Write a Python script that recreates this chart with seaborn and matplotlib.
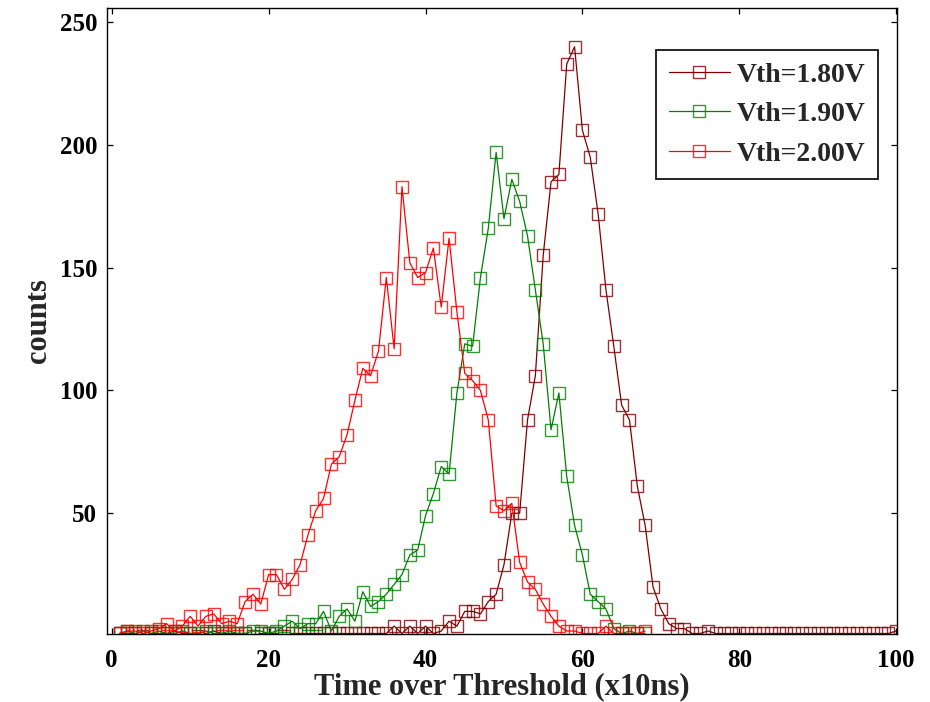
import numpy as np
import pandas as pd
import matplotlib
matplotlib.use("Agg")
import matplotlib.pyplot as plt
from matplotlib.colors import to_rgba
import seaborn as sns

# ---- data ----
x_180 = list(range(1, 101))
counts_180 = [1, 1, 1, 0, 1, 1, 1, 2, 1, 1,
              0, 1, 2, 1, 1, 1, 1, 0, 1, 1,
              1, 0, 1, 1, 1, 1, 1, 1, 1, 1,
              1, 1, 1, 1, 1, 4, 1, 4, 1, 4,
              1, 2, 6, 4, 10, 10, 9, 14, 17, 29,
              50, 50, 88, 106, 155, 185, 188, 233, 240, 206,
              195, 172, 141, 118, 94, 88, 61, 45, 20, 11,
              5, 3, 3, 1, 1, 2, 1, 1, 1, 1,
              1, 1, 1, 1, 1, 1, 1, 1, 1, 1,
              1, 1, 1, 1, 1, 1, 1, 1, 1, 2]

x_190 = list(range(1, 69))
counts_190 = [1, 2, 1, 2, 1, 2, 1, 1, 2, 1,
              1, 2, 1, 1, 2, 1, 1, 2, 2, 1,
              2, 4, 6, 3, 5, 5, 10, 2, 8, 11,
              6, 18, 12, 14, 17, 21, 25, 33, 35, 49,
              58, 69, 66, 99, 119, 118, 146, 166, 197, 170,
              186, 177, 163, 141, 119, 84, 99, 65, 45, 33,
              17, 14, 11, 3, 1, 2, 1, 1]

x_200 = list(range(1, 69))
counts_200 = [1, 2, 2, 1, 2, 3, 5, 2, 4, 8,
              4, 8, 9, 5, 6, 5, 14, 17, 13, 25,
              25, 19, 23, 29, 41, 51, 56, 70, 73, 82,
              96, 109, 106, 116, 146, 117, 183, 152, 146, 148,
              158, 134, 162, 132, 107, 104, 100, 88, 53, 51,
              54, 30, 22, 19, 13, 8, 4, 2, 2, 1,
              1, 1, 4, 1, 1, 1, 1, 2]

labels = ["Vth=1.80V", "Vth=1.90V", "Vth=2.00V"]
colors = ["#800000", "#008000", "#ff0000"]

x_ticks = [0, 20, 40, 60, 80, 100]
y_ticks = [50, 100, 150, 200, 250]

# ---- style ----
sns.set_style("ticks")
plt.rcParams["font.family"] = ["Liberation Serif", "DejaVu Serif"]
plt.rcParams["font.weight"] = "bold"

fig = plt.figure(figsize=(9.3, 7.02), dpi=100)
ax = fig.add_axes([0.1151, 0.0969, 0.8494, 0.8917])

series = [(x_180, counts_180), (x_190, counts_190), (x_200, counts_200)]
for (xs, ys), lab, col in zip(series, labels, colors):
    df = pd.DataFrame({"x": xs, "counts": ys})
    sns.lineplot(data=df, x="x", y="counts", ax=ax, color=col, label=lab,
                 linewidth=0.9, marker="s", markersize=8.4,
                 markerfacecolor="none", markeredgecolor=to_rgba(col, 0.8),
                 markeredgewidth=1.0)

ax.set_xlim(-0.6, 100.1)
ax.set_ylim(0.8, 255.8)
ax.set_xticks(x_ticks)
ax.set_yticks(y_ticks)
ax.tick_params(axis="both", which="major", direction="in", length=4,
               width=0.9, top=True, right=True, labelsize=18, colors="black")
ax.tick_params(axis="x", pad=11)
ax.tick_params(axis="y", pad=7)
for lbl in ax.get_xticklabels() + ax.get_yticklabels():
    lbl.set_fontweight("bold")
for sp in ax.spines.values():
    sp.set_visible(True)
    sp.set_color("black")
    sp.set_linewidth(1.0)

ax.set_xlabel("Time over Threshold (x10ns)", fontsize=22, fontweight="bold",
              labelpad=0)
ax.set_ylabel("counts", fontsize=22, fontweight="bold", labelpad=5)

leg = ax.legend(loc="upper right", bbox_to_anchor=(0.976, 0.933),
                fontsize=20, frameon=True, fancybox=False, shadow=False,
                handlelength=2.2, handletextpad=0.25, labelspacing=0.5,
                borderpad=0.45, borderaxespad=0.0)
leg.get_frame().set_edgecolor("black")
leg.get_frame().set_linewidth(1.2)
leg.get_frame().set_alpha(1.0)
for t in leg.get_texts():
    t.set_fontweight("bold")

fig.savefig("out.png", dpi=100)
